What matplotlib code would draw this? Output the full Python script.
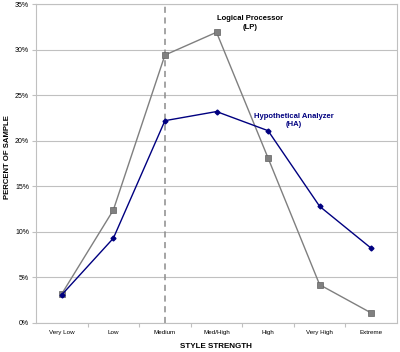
import matplotlib
matplotlib.use("Agg")
import matplotlib.pyplot as plt
from matplotlib.ticker import FixedLocator, PercentFormatter

plt.rcParams['font.family'] = ['Liberation Sans', 'DejaVu Sans']

# Data
categories = ["Very Low", "Low", "Medium", "Med/High", "High", "Very High", "Extreme"]
lp_values = [3.2, 12.4, 29.4, 31.9, 18.1, 4.2, 1.1]   # Logical Processor
ha_values = [3.1, 9.3, 22.2, 23.2, 21.1, 12.8, 8.2]   # Hypothetical Analyzer
y_ticks = [0, 5, 10, 15, 20, 25, 30, 35]

grid_col = "#c0c0c0"
lp_col = "#7f7f7f"
ha_col = "#000080"

fig = plt.figure(figsize=(4, 3.52), dpi=100)
ax = fig.add_axes([0.09, 0.0824, 0.9025, 0.9062])

x = list(range(len(categories)))

# grid lines
for t in y_ticks:
    ax.axhline(t, color=grid_col, lw=0.8, zorder=0)

# dashed marker at Medium
ax.axvline(2, color="#8c8c8c", lw=1.1, ls=(0, (4, 3)), zorder=1)

ax.plot(x, lp_values, color=lp_col, lw=1.0, marker="s", ms=4,
        markerfacecolor="#808080", markeredgecolor="#606060", markeredgewidth=0.5, zorder=3)
ax.plot(x, ha_values, color=ha_col, lw=1.0, marker="D", ms=2.5,
        markerfacecolor=ha_col, markeredgecolor=ha_col, zorder=4)

ax.text(3.65, 32.9, "Logical Processor\n(LP)", ha="center", va="center",
        fontsize=5.5, fontweight="bold", color="black", linespacing=1.3)
ax.text(4.5, 22.2, "Hypothetical Analyzer\n(HA)", ha="center", va="center",
        fontsize=5.5, fontweight="bold", color=ha_col, linespacing=1.3)

ax.set_xlim(-0.5, len(categories) - 0.5)
ax.set_ylim(0, 35)
ax.yaxis.set_major_locator(FixedLocator(y_ticks))
ax.yaxis.set_major_formatter(PercentFormatter(decimals=0))
ax.set_xticks(x)
ax.set_xticklabels(categories)
ax.xaxis.set_minor_locator(FixedLocator([i + 0.5 for i in x[:-1]]))

ax.tick_params(axis="y", labelsize=5, length=3, width=0.8, color=grid_col, pad=2)
ax.tick_params(axis="x", which="major", labelsize=4.5, length=0, pad=5)
ax.tick_params(axis="x", which="minor", length=3, width=0.8, color=grid_col)

for s in ax.spines.values():
    s.set_color(grid_col)
    s.set_linewidth(0.8)

fig.text(8 / 400, 1 - 157 / 352, "PERCENT OF SAMPLE", rotation=90, ha="center", va="center",
         fontsize=5.6, fontweight="bold")
fig.text(216 / 400, 1 - 346 / 352, "STYLE STRENGTH", ha="center", va="center",
         fontsize=5.8, fontweight="bold")

fig.savefig("out.png", dpi=100)
